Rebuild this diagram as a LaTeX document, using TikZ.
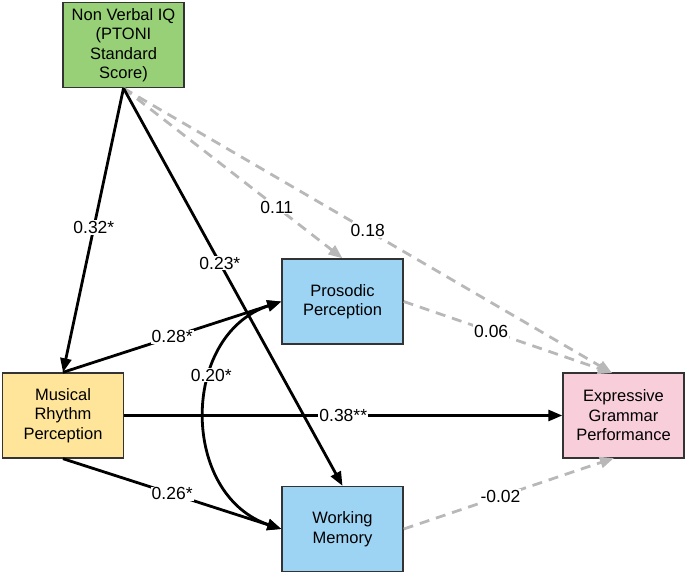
\documentclass[tikz,border=0pt]{standalone}
\usepackage{fontspec}
\setmainfont{Liberation Sans}
\usetikzlibrary{arrows.meta,calc}
\definecolor{nvgreen}{HTML}{97D077}
\definecolor{mryellow}{HTML}{FFE599}
\definecolor{ppblue}{HTML}{9DD3F3}
\definecolor{egpink}{HTML}{F8CEDB}
\definecolor{dashgray}{HTML}{B8B8B8}
\definecolor{boxline}{HTML}{333333}
\tikzset{
  varbox/.style={draw=boxline, line width=1.4pt, minimum width=121pt, minimum height=85pt,
    inner sep=0pt, align=center, font=\fontsize{16.5}{19.5}\selectfont},
  sigpath/.style={draw=black, line width=2.8pt, -{Triangle[length=14pt,width=11pt]}},
  nspath/.style={draw=dashgray, line width=2.8pt, dash pattern=on 10pt off 7pt,
    -{Triangle[length=14pt,width=11pt]}},
  corpath/.style={draw=black, line width=2.8pt, {Triangle[length=14pt,width=11pt]}-{Triangle[length=14pt,width=11pt]}},
  lbl/.style={fill=white, inner sep=1pt, font=\fontsize{17.5}{20}\selectfont}
}
\begin{document}
\begin{tikzpicture}[x=1pt,y=-1pt]
\useasboundingbox (0,0) rectangle (685,575);
\node[varbox, fill=nvgreen] (nv) at (123.5,45) {Non Verbal IQ\\(PTONI\\Standard\\Score)};
\node[varbox, fill=mryellow] (mr) at (63,415.5) {Musical\\Rhythm\\Perception};
\node[varbox, fill=ppblue] (pp) at (342.5,301.5) {Prosodic\\Perception};
\node[varbox, fill=ppblue] (wm) at (342.5,529) {Working\\Memory};
\node[varbox, fill=egpink] (eg) at (623.5,415.5) {Expressive\\Grammar\\Performance};
\coordinate (egin) at (612,373);
\coordinate (egbot) at (614,458);
% non-significant paths
\draw[nspath] (nv.south) -- node[lbl, pos=0.70] {0.11} (pp.north);
\draw[nspath] (nv.south) -- node[lbl, pos=0.50] {0.18} (egin);
\draw[nspath] (pp.east) -- node[lbl, pos=0.42] {0.06} (egin);
\draw[nspath] (wm.east) -- node[lbl, pos=0.46] {-0.02} (egbot);
% significant paths
\draw[sigpath] (nv.south) -- node[lbl, pos=0.49] {0.32*} (mr.north);
\draw[sigpath] (mr.north) -- node[lbl, pos=0.5] {0.28*} (pp.west);
\draw[sigpath] (mr.south) -- node[lbl, pos=0.5] {0.26*} (wm.west);
\draw[corpath] (pp.west) .. controls (180,335) and (180,495) .. node[lbl, pos=0.36] {0.20*} (wm.west);
\draw[sigpath] (nv.south) -- node[lbl, pos=0.44] {0.23*} (wm.north);
\draw[sigpath] (mr.east) -- node[lbl, pos=0.5] {0.38**} (eg.west);
\end{tikzpicture}
\end{document}
